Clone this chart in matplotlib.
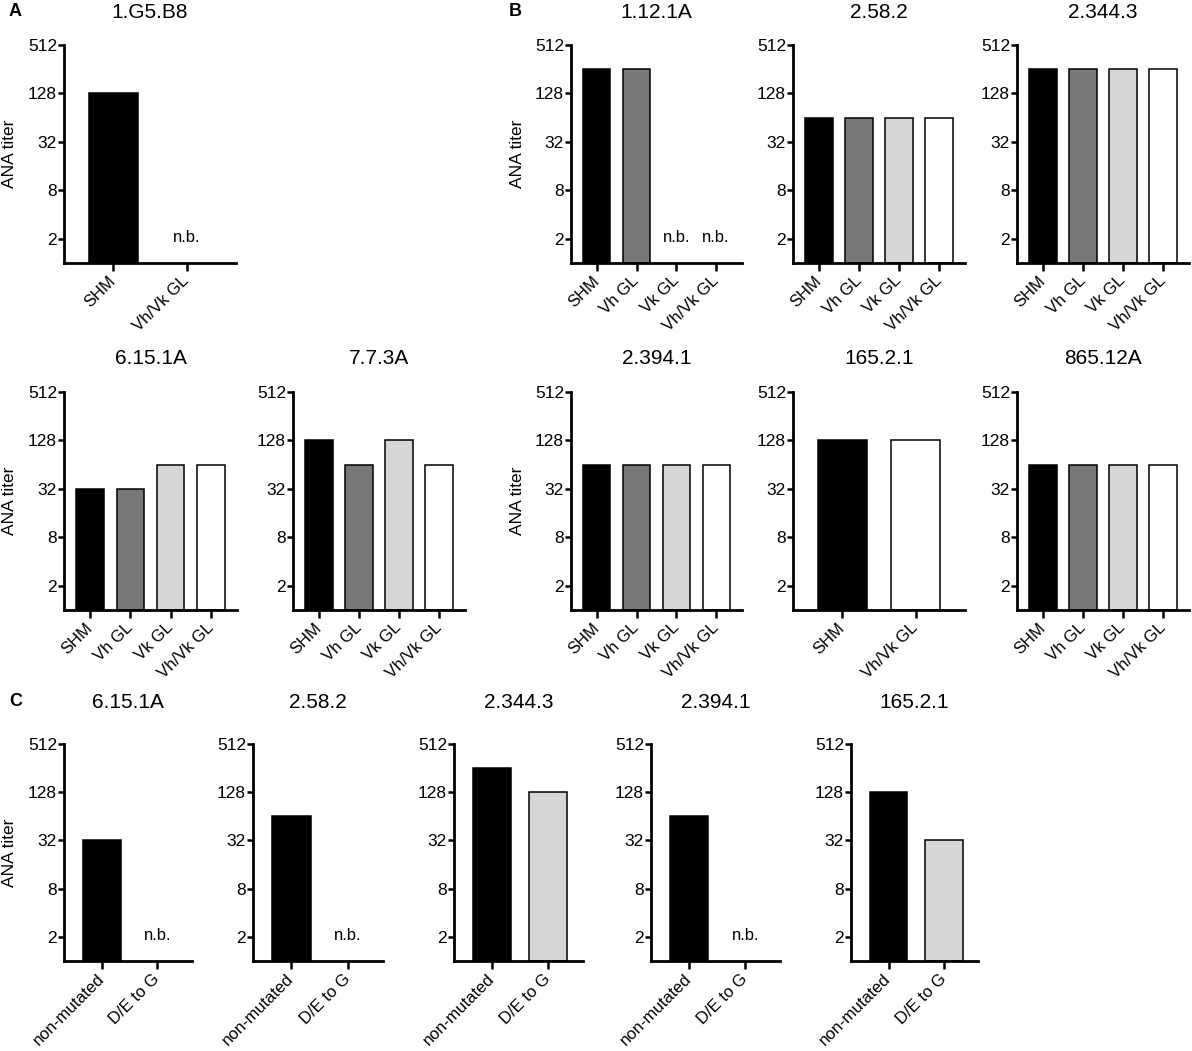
import numpy as np
import matplotlib.pyplot as plt

plt.rcParams['font.family'] = ['Liberation Sans', 'DejaVu Sans']

# data: ANA titer per construct (None = n.b., no binding)
cats_4 = ["SHM", "Vh GL", "Vk GL", "Vh/Vk GL"]
cats_2 = ["SHM", "Vh/Vk GL"]
cats_c = ["non-mutated", "D/E to G"]

titer_1G5B8 = [128, None]
titer_1121A = [256, 256, None, None]
titer_2582 = [64, 64, 64, 64]
titer_23443 = [256, 256, 256, 256]
titer_6151A = [32, 32, 64, 64]
titer_773A = [128, 64, 128, 64]
titer_23941 = [64, 64, 64, 64]
titer_16521 = [128, 128]
titer_86512A = [64, 64, 64, 64]

mut_6151A = [32, None]
mut_2582 = [64, None]
mut_23443 = [256, 128]
mut_23941 = [64, None]
mut_16521 = [128, 32]

yticks = [2, 8, 32, 128, 512]

# colours
BLACK, DARK, LIGHT, WHITE = "#000000", "#787878", "#d6d6d6", "#ffffff"
col_4 = [BLACK, DARK, LIGHT, WHITE]
col_2 = [BLACK, WHITE]
col_c = [BLACK, LIGHT]

FIG_W, FIG_H = 1192, 1051
fig = plt.figure(figsize=(FIG_W / 100, FIG_H / 100), dpi=100)


def add_panel(left, right, top, bottom, title, title_y, cats, values, colors,
              xlim, ylabel=False):
    ax = fig.add_axes([left / FIG_W, 1 - bottom / FIG_H,
                       (right - left) / FIG_W, (bottom - top) / FIG_H])
    ax.set_yscale('log', base=2)
    x = np.arange(len(cats))
    for xi, v, c in zip(x, values, colors):
        if v is None:
            ax.text(xi, 2.1, 'n.b.', ha='center', va='center', fontsize=12)
        else:
            ax.bar(xi, v - 1, bottom=1, width=0.68, color=c,
                   edgecolor='black', linewidth=1.1, zorder=2)
    ax.set_ylim(1, 512)
    ax.set_xlim(*xlim)
    ax.set_yticks(yticks)
    ax.set_yticklabels([str(t) for t in yticks], fontsize=12.5)
    ax.minorticks_off()
    ax.set_xticks(x)
    ax.set_xticklabels(cats, rotation=45, ha='right', va='center',
                       rotation_mode='anchor', fontsize=12)
    for s in ['top', 'right']:
        ax.spines[s].set_visible(False)
    for s in ['left', 'bottom']:
        ax.spines[s].set_linewidth(2.0)
    ax.tick_params(axis='y', direction='out', length=4, width=1.8, pad=1)
    ax.tick_params(axis='x', direction='out', length=6, width=1.8, pad=5)
    fig.text((left + right) / 2 / FIG_W, 1 - title_y / FIG_H, title,
             ha='center', va='center', fontsize=15)
    if ylabel:
        fig.text((left - 54) / FIG_W, 1 - (top + bottom) / 2 / FIG_H,
                 'ANA titer', rotation=90, ha='center', va='center',
                 fontsize=12.5)
    return ax


XL4 = (-0.65, 3.65)
XL2 = (-0.675, 1.675)
XLC = (-0.68, 1.62)

# row 1
add_panel(64, 236, 45, 263, "1.G5.B8", 13, cats_2, titer_1G5B8, col_2, XL2, ylabel=True)
add_panel(571, 742, 45, 263, "1.12.1A", 13, cats_4, titer_1121A, col_4, XL4, ylabel=True)
add_panel(793, 965, 45, 263, "2.58.2", 13, cats_4, titer_2582, col_4, XL4)
add_panel(1017, 1189, 45, 263, "2.344.3", 13, cats_4, titer_23443, col_4, XL4)

# row 2
add_panel(64, 237, 392, 610, "6.15.1A", 358, cats_4, titer_6151A, col_4, XL4, ylabel=True)
add_panel(293, 465, 392, 610, "7.7.3A", 358, cats_4, titer_773A, col_4, XL4)
add_panel(571, 742, 392, 610, "2.394.1", 358, cats_4, titer_23941, col_4, XL4, ylabel=True)
add_panel(793, 965, 392, 610, "165.2.1", 358, cats_2, titer_16521, col_2, XL2)
add_panel(1017, 1189, 392, 610, "865.12A", 358, cats_4, titer_86512A, col_4, XL4)

# row 3
add_panel(64, 192, 744, 961, "6.15.1A", 702, cats_c, mut_6151A, col_c, XLC, ylabel=True)
add_panel(253, 383, 744, 961, "2.58.2", 702, cats_c, mut_2582, col_c, XLC)
add_panel(454, 583, 744, 961, "2.344.3", 702, cats_c, mut_23443, col_c, XLC)
add_panel(651, 780, 744, 961, "2.394.1", 702, cats_c, mut_23941, col_c, XLC)
add_panel(851, 978, 744, 961, "165.2.1", 702, cats_c, mut_16521, col_c, XLC)

# panel letters
for letter, px, py in [("A", 15, 12), ("B", 515, 12), ("C", 16, 702)]:
    fig.text(px / FIG_W, 1 - py / FIG_H, letter, ha='center', va='center',
             fontsize=13, fontweight='bold')

fig.savefig("out.png", dpi=100)
